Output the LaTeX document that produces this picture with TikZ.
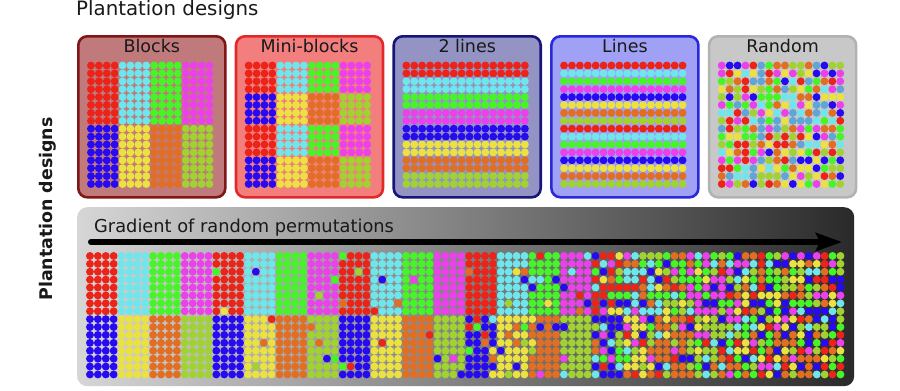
\documentclass[tikz,border=0pt]{standalone}
\usepackage{fontspec}
\setmainfont{DejaVu Sans}
\usetikzlibrary{positioning,arrows.meta}

\definecolor{txt}{RGB}{25,25,25}
% dot colours
\definecolor{dot0}{RGB}{235,35,25}
\definecolor{dot1}{RGB}{110,230,235}
\definecolor{dot2}{RGB}{70,245,40}
\definecolor{dot3}{RGB}{235,65,235}
\definecolor{dot4}{RGB}{40,10,240}
\definecolor{dot5}{RGB}{235,225,65}
\definecolor{dot6}{RGB}{225,110,35}
\definecolor{dot7}{RGB}{160,210,50}
\definecolor{dot8}{RGB}{95,165,215}
% panel colours
\definecolor{pf0}{RGB}{193,122,124}
\definecolor{pd0}{RGB}{128,22,22}
\definecolor{pf1}{RGB}{242,126,126}
\definecolor{pd1}{RGB}{226,40,40}
\definecolor{pf2}{RGB}{148,148,196}
\definecolor{pd2}{RGB}{22,22,122}
\definecolor{pf3}{RGB}{160,160,244}
\definecolor{pd3}{RGB}{40,40,220}
\definecolor{pf4}{RGB}{200,200,200}
\definecolor{pd4}{RGB}{178,178,178}
\definecolor{gradL}{RGB}{214,214,214}
\definecolor{gradR}{RGB}{42,42,42}

\begin{document}
\begin{tikzpicture}[x=1pt,y=-1pt,
panel/.style={draw,line width=2.6pt,rounded corners=9pt,minimum width=147pt,minimum height=161pt,anchor=north west,inner sep=0pt},
panellbl/.style={font=\fontsize{17.5}{20}\selectfont,text=txt,inner sep=0pt,text height=13pt,text depth=4pt,anchor=north}]
\useasboundingbox (0,0) rectangle (900,391);
\pgfmathsetseed{11}

\node [anchor=base west,inner sep=0pt,text=txt,font=\fontsize{19.8}{22}\selectfont] (title) at (76,15.5) {Plantation designs};
\node [rotate=90,inner sep=0pt,text=txt,font=\bfseries\fontsize{17.4}{20}\selectfont] (side-lbl) at (48,209) {Plantation designs};

% the five designs
\foreach \nm/\lbl [count=\pi from 0] in {blocks/Blocks,miniblocks/Mini-blocks,twolines/2 lines,lines/Lines,random/Random}{
  \node [panel,fill=pf\pi,draw=pd\pi] (\nm) at ({77+157.7*\pi},35) {};
  \node [panellbl,below=4pt of \nm.north] (\nm-lbl) {\lbl};
  \foreach \cx in {0,...,15}{
    \foreach \ry in {0,...,15}{
      \ifcase\pi
        \pgfmathtruncatemacro\ci{int(\cx/4)+4*int(\ry/8)}
      \or
        \pgfmathtruncatemacro\ci{int(\cx/4)+4*mod(int(\ry/4),2)}
      \or
        \pgfmathtruncatemacro\ci{int(\ry/2)}
      \or
        \pgfmathtruncatemacro\ci{mod(\ry,8)}
      \else
        \pgfmathtruncatemacro\ci{random(0,8)}
      \fi
      \fill [fill=dot\ci] ({77+157.7*\pi+13.95+7.9*\cx},{65.5+7.9*\ry}) circle [radius=3.95pt];
    }
  }
}

% gradient of permutations
\node [anchor=north west,minimum width=777pt,minimum height=179pt,rounded corners=10pt,inner sep=0pt,left color=gradL,right color=gradR] (gradient) at (77,207) {};
\node [anchor=base west,inner sep=0pt,text=txt,font=\fontsize{17.8}{20}\selectfont] (gradient-lbl) at (94,232) {Gradient of random permutations};
\coordinate (arr-start) at (91,242);
\coordinate (arr-end) at (842,242);
\draw [line width=6pt,line cap=round,-{Stealth[length=26pt,width=18pt,inset=4pt]}] (arr-start) -- (arr-end);

\foreach \pr [count=\pn from 0] in {0,0.04,0.09,0.2,0.65,1}{
  \foreach \cx in {0,...,15}{
    \foreach \ry in {0,...,15}{
      \pgfmathtruncatemacro\ci{rnd<\pr ? random(0,7) : int(\cx/4)+4*int(\ry/8)}
      \fill [fill=dot\ci] ({89.95+126.4*\pn+7.9*\cx},{255.95+7.9*\ry}) circle [radius=3.95pt];
    }
  }
}
\end{tikzpicture}
\end{document}
